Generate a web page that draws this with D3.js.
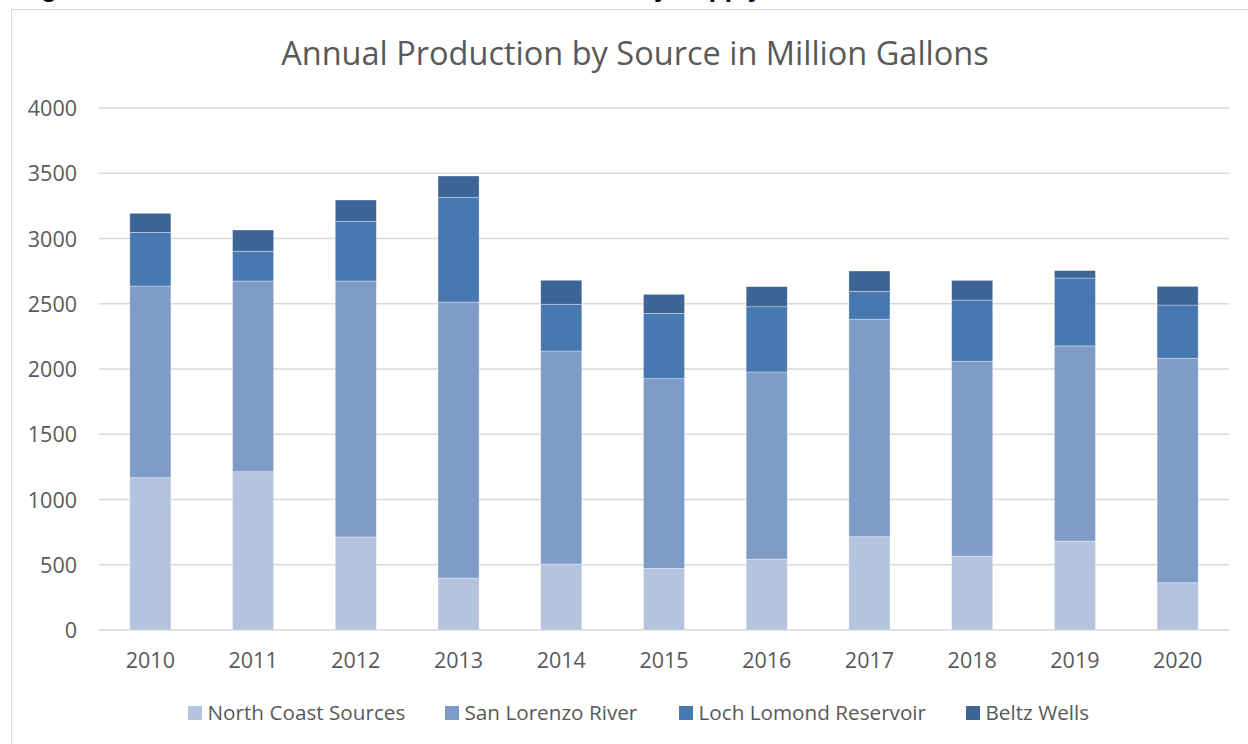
<!DOCTYPE html>
<html>
<head>
<meta charset="utf-8">
<script src="https://cdn.jsdelivr.net/npm/d3@7"></script>
<style>
  html, body { margin: 0; padding: 0; background: #fff; }
  svg { display: block; }
</style>
</head>
<body>
<svg id="chart" width="1248" height="744"></svg>
<script>
const years = ["2010","2011","2012","2013","2014","2015","2016","2017","2018","2019","2020"];
const seriesNames = ["North Coast Sources","San Lorenzo River","Loch Lomond Reservoir","Beltz Wells"];
const northCoast = [1167,1213,713,398,505,472,543,715,566,681,362];
const sanLorenzo = [1469,1461,1961,2115,1633,1454,1434,1667,1493,1496,1720];
const lochLomond = [411,228,458,803,358,500,500,213,469,520,408];
const beltzWells = [146,163,163,163,184,146,154,156,151,57,143];
const yTicks = [0,500,1000,1500,2000,2500,3000,3500,4000];
const colors = ["#b4c3de","#7f9cc8","#4878b0","#3c6495"];
const titleText = "Annual Production by Source in Million Gallons";
const headingStart = "Figure 4: Santa Cruz Water Annual Production";
const headingEnd = "by Supply Source";

const svg = d3.select("#chart");
const font = "'Open Sans', 'Noto Sans', sans-serif";
const textColor = "#595959";

// heading (mostly clipped at top, as in the reference)
const heading = svg.append("text").attr("y", -3.5)
  .attr("font-family", "'Liberation Sans', Arial, sans-serif").attr("font-weight", "bold")
  .attr("font-size", 26).attr("fill", "#000");
heading.append("tspan").attr("x", 18).text(headingStart);
heading.append("tspan").attr("x", 638).text(headingEnd);

// chart frame
svg.append("rect").attr("x", 11.5).attr("y", 9.5).attr("width", 1300).attr("height", 800)
  .attr("fill", "#fff").attr("stroke", "#d9d9d9").attr("stroke-width", 1);

const x = d3.scaleBand().domain(years).range([99, 1229]).paddingInner(0.6).paddingOuter(0.3);
const y = d3.scaleLinear().domain([0, 4000]).range([630, 108]);

// gridlines
svg.append("g").selectAll("line").data(yTicks).join("line")
  .attr("x1", 99).attr("x2", 1229)
  .attr("y1", d => y(d)).attr("y2", d => y(d))
  .attr("stroke", "#d9d9d9").attr("stroke-width", 1.5);

// y axis labels
const yAxis = d3.axisLeft(y).tickValues(yTicks).tickFormat(d3.format("d")).tickSize(0).tickPadding(0);
const yg = svg.append("g").attr("transform", "translate(77,0)").call(yAxis);
yg.select(".domain").remove();
yg.selectAll("text").attr("font-family", font).attr("font-size", 21.5).attr("fill", textColor).attr("dy", "0.35em");

// data table
const table = years.map((yr, i) => ({
  year: yr,
  "North Coast Sources": northCoast[i],
  "San Lorenzo River": sanLorenzo[i],
  "Loch Lomond Reservoir": lochLomond[i],
  "Beltz Wells": beltzWells[i]
}));
const stacked = d3.stack().keys(seriesNames)(table);

svg.append("g").selectAll("g").data(stacked).join("g")
  .attr("fill", (d, i) => colors[i])
  .selectAll("rect").data(d => d).join("rect")
  .attr("x", d => x(d.data.year))
  .attr("width", x.bandwidth())
  .attr("y", d => y(d[1]))
  .attr("height", d => y(d[0]) - y(d[1]))
  .attr("stroke", "#ffffff").attr("stroke-opacity", 0.45).attr("stroke-width", 0.75);

// x axis labels
const xAxis = d3.axisBottom(x).tickSize(0).tickPadding(0);
const xg = svg.append("g").attr("transform", "translate(0,630)").call(xAxis);
xg.select(".domain").remove();
xg.selectAll("text").attr("font-family", font).attr("font-size", 21.5).attr("fill", textColor)
  .attr("dy", null).attr("y", 38);

// title
svg.append("text").attr("x", 635).attr("y", 65).attr("text-anchor", "middle")
  .attr("font-family", font).attr("font-weight", 400).attr("font-size", 32.5).attr("fill", textColor)
  .text(titleText);

// legend
const legendX = [188, 445, 679, 966];
const lg = svg.append("g").selectAll("g").data(seriesNames).join("g")
  .attr("transform", (d, i) => `translate(${legendX[i]},713)`);
lg.append("rect").attr("x", 0).attr("y", -7).attr("width", 14).attr("height", 14)
  .attr("fill", (d, i) => colors[i]);
lg.append("text").attr("x", 19.5).attr("y", 0).attr("dy", "0.35em")
  .attr("font-family", font).attr("font-size", 20.7).attr("fill", textColor).text(d => d);
</script>
</body>
</html>
